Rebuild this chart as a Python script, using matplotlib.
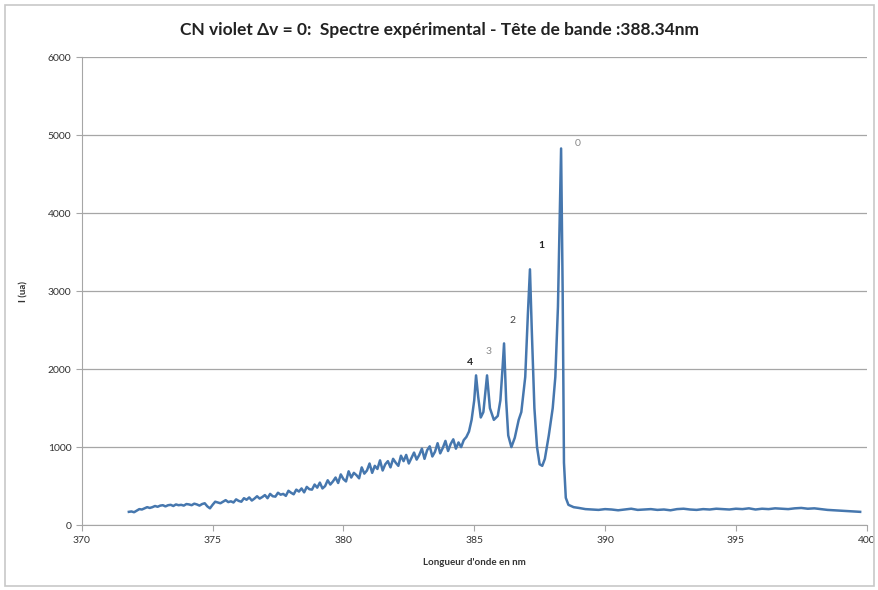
import numpy as np
import matplotlib.pyplot as plt
from matplotlib.patches import Rectangle

# bruit / bande (371.8 -> 384.7 nm, pas 0.1)
wl_band = np.round(np.arange(371.8, 384.75, 0.1), 2)
i_band = [170, 175, 165, 185, 205, 200, 215, 230, 220, 230,
          245, 235, 250, 255, 240, 255, 260, 245, 265, 255,
          260, 250, 270, 265, 255, 275, 265, 250, 270, 280,
          240, 215, 260, 300, 290, 280, 300, 320, 295, 305,
          290, 330, 310, 300, 345, 325, 355, 315, 340, 370,
          340, 360, 385, 345, 400, 370, 365, 415, 390, 400,
          375, 440, 415, 395, 455, 430, 470, 420, 490, 460,
          455, 520, 480, 545, 470, 500, 575, 520, 560, 610,
          540, 650, 590, 560, 690, 610, 670, 640, 600, 740,
          660, 700, 790, 670, 760, 720, 830, 700, 780, 820,
          740, 850, 800, 760, 890, 820, 900, 790, 860, 930,
          840, 900, 980, 850, 960, 1010, 880, 940, 1050, 920,
          990, 1080, 950, 1040, 1100, 980, 1060, 1000, 1090, 1130]

# tetes de bande
wl_peaks = [384.8, 384.9, 385.0, 385.07, 385.15, 385.25, 385.35, 385.49, 385.6, 385.75,
            385.9, 386.0, 386.08, 386.14, 386.22, 386.3, 386.42, 386.55, 386.7, 386.8,
            386.95, 387.05, 387.13, 387.2, 387.3, 387.4, 387.5, 387.6, 387.7, 387.85,
            388.0, 388.1, 388.2, 388.27, 388.32, 388.38, 388.43, 388.5, 388.6, 388.8]
i_peaks = [1200, 1350, 1600, 1920, 1650, 1380, 1450, 1920, 1500, 1350,
           1400, 1600, 2000, 2330, 1600, 1150, 1000, 1120, 1350, 1450,
           1900, 2700, 3280, 2500, 1500, 1000, 780, 760, 850, 1150,
           1500, 1900, 2800, 4000, 4830, 3000, 800, 350, 260, 230]

# fond apres la tete (389 -> 399.75, pas 0.25)
wl_tail = np.round(np.arange(389.0, 399.8, 0.25), 2)
i_tail = [220, 205, 200, 195, 205, 200, 190, 200, 210, 195,
          200, 205, 195, 200, 190, 205, 210, 200, 195, 205,
          200, 210, 205, 200, 210, 205, 215, 200, 210, 205,
          215, 210, 205, 215, 220, 210, 215, 205, 195, 190,
          185, 180, 175, 170]

labels = ["4", "3", "2", "1", "0"]
lab_x = [384.85, 385.55, 386.48, 387.55, 388.95]
lab_y = [2090, 2230, 2620, 3580, 4900]
lab_c = ["#222222", "#888888", "#444444", "#222222", "#888888"]
lab_w = ["bold", "normal", "normal", "bold", "normal"]

wl = np.concatenate([wl_band, wl_peaks, wl_tail])
inten = np.concatenate([i_band, i_peaks, i_tail])

plt.rcParams['font.family'] = ['Lato', 'DejaVu Sans']
fig = plt.figure(figsize=(8.79, 5.9), dpi=100)
ax = fig.add_axes([0.093, 0.110, 0.893, 0.793])
fig.patches.append(Rectangle((0.006, 0.006), 0.988, 0.985, transform=fig.transFigure,
                             fill=False, edgecolor='#c8c8c8', lw=1.2))

ax.plot(wl, inten, color='#4677ae', lw=1.8)
for t, x, y, c, w in zip(labels, lab_x, lab_y, lab_c, lab_w):
    ax.text(x, y, t, fontsize=7.5, color=c, fontweight=w, ha='center', va='center')

ax.set_xlim(370, 400)
ax.set_ylim(0, 6000)
ax.set_xticks(range(370, 401, 5))
ax.set_yticks(range(0, 6001, 1000))
ax.grid(axis='y', color='#a6a6a6', lw=0.9)
ax.set_axisbelow(True)
for s in ['top', 'right']:
    ax.spines[s].set_visible(False)
for s in ['left', 'bottom']:
    ax.spines[s].set_color('#a6a6a6')
ax.tick_params(colors='#a6a6a6', length=4, labelsize=7.5, labelcolor='#333333')
ax.set_xlabel("Longueur d'onde en nm", fontsize=7, fontweight='bold', color='#333333', labelpad=10)
ax.set_ylabel("I (ua)", fontsize=7, fontweight='bold', color='#333333', labelpad=14)
fig.suptitle("CN violet \u0394v = 0:  Spectre exp\u00e9rimental - T\u00eate de bande :388.34nm",
             y=0.962, fontsize=12.5, fontweight='bold', color='#222222')

fig.savefig("out.png", dpi=100)
